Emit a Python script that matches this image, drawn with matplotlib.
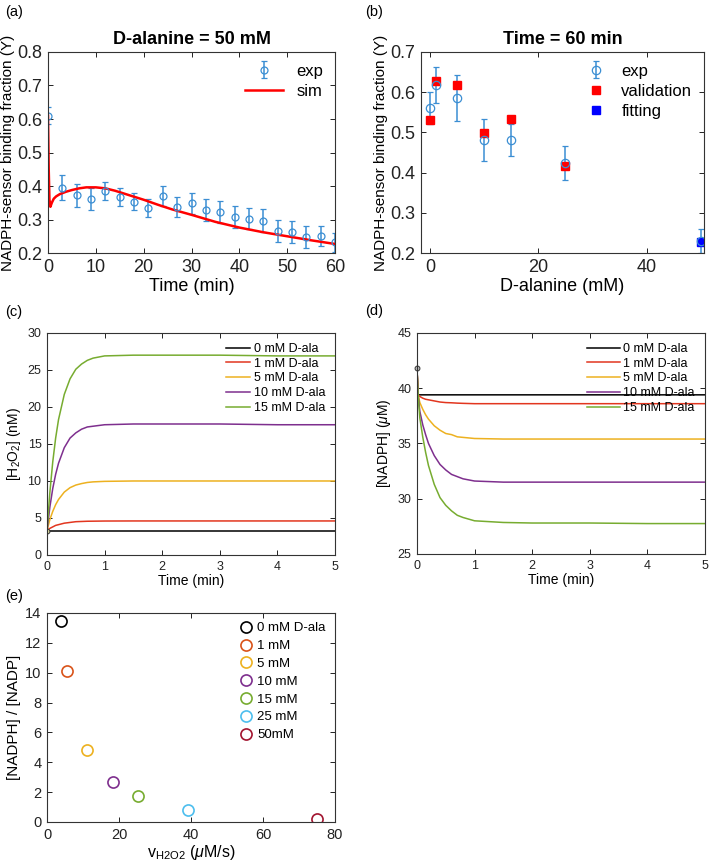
import matplotlib
matplotlib.use("Agg")
import matplotlib.pyplot as plt

plt.rcParams['font.family'] = ['Liberation Sans', 'DejaVu Sans']
plt.rcParams['mathtext.fontset'] = 'custom'
plt.rcParams['mathtext.rm'] = 'Liberation Sans'
plt.rcParams['mathtext.it'] = 'Liberation Sans:italic'
plt.rcParams['axes.edgecolor'] = '#333333'
plt.rcParams['axes.linewidth'] = 0.8

# Panel (a): D-alanine = 50 mM, time course
a_t = [0, 3, 6, 9, 12, 15, 18, 21, 24, 27, 30, 33, 36, 39, 42, 45, 48, 51, 54, 57, 60]
a_y = [0.61, 0.395, 0.372, 0.36, 0.385, 0.368, 0.353, 0.335, 0.37, 0.338, 0.348,
       0.328, 0.323, 0.307, 0.303, 0.297, 0.267, 0.264, 0.248, 0.25, 0.232]
a_err = [0.025, 0.037, 0.035, 0.033, 0.028, 0.027, 0.025, 0.027, 0.03, 0.03, 0.032,
         0.032, 0.033, 0.033, 0.032, 0.033, 0.033, 0.033, 0.032, 0.03, 0.028]
sim_t = [0, 0.15, 0.3, 0.5, 0.8, 1.2, 1.7, 2.5, 3.8, 5, 6.5, 8, 10, 12, 14, 16, 18,
         20, 23, 26, 30, 35, 40, 45, 50, 55, 60]
sim_y = [0.61, 0.45, 0.36, 0.338, 0.35, 0.362, 0.369, 0.376, 0.383, 0.388, 0.393,
         0.396, 0.396, 0.393, 0.386, 0.377, 0.368, 0.359, 0.344, 0.330, 0.314,
         0.293, 0.276, 0.262, 0.250, 0.238, 0.227]

# Panel (b): time = 60 min
b_x = [0, 1, 5, 10, 15, 25, 50]
b_y = [0.56, 0.617, 0.585, 0.481, 0.481, 0.423, 0.23]
b_err = [0.04, 0.045, 0.057, 0.053, 0.04, 0.042, 0.03]
val_x = [0, 1, 5, 10, 15, 25]
val_y = [0.531, 0.629, 0.619, 0.499, 0.533, 0.416]
fit_x = [50]
fit_y = [0.227]

# Panels (c), (d): simulated time courses
labels_cd = ['0 mM D-ala', '1 mM D-ala', '5 mM D-ala', '10 mM D-ala', '15 mM D-ala']
colors_cd = ['black', '#E2361F', '#EDB120', '#7E2F8E', '#77AC30']
t_sim = [0, 0.05, 0.1, 0.15, 0.2, 0.3, 0.4, 0.5, 0.6, 0.7, 0.8, 1.0, 1.5, 2, 3, 4, 5]
h2o2 = [
    [3.3] * 17,
    [3.3, 3.6, 3.8, 4.0, 4.1, 4.3, 4.4, 4.5, 4.53, 4.56, 4.57, 4.59, 4.6, 4.6, 4.6, 4.6, 4.6],
    [3.3, 4.8, 5.9, 6.8, 7.5, 8.5, 9.1, 9.45, 9.65, 9.8, 9.88, 9.95, 10.0, 10.0, 10.0, 10.0, 10.0],
    [3.3, 6.5, 9.0, 10.9, 12.4, 14.5, 15.8, 16.5, 17.0, 17.3, 17.4, 17.6, 17.7, 17.7, 17.7, 17.6, 17.6],
    [3.3, 8.5, 12.6, 15.8, 18.3, 21.7, 23.8, 25.1, 25.8, 26.3, 26.6, 26.9, 27.0, 27.0, 27.0, 26.9, 26.9],
]
h2o2_init = 3.3
t_nadph = [0, 0.02, 0.05, 0.1, 0.15, 0.2, 0.3, 0.4, 0.5, 0.6, 0.7, 0.8, 1.0, 1.5, 2, 3, 4, 5]
nadph = [
    [41.8, 39.4, 39.4, 39.4, 39.4, 39.4, 39.4, 39.4, 39.4, 39.4, 39.4, 39.4, 39.4, 39.4, 39.4, 39.4, 39.4, 39.4],
    [41.8, 39.4, 39.25, 39.1, 39.0, 38.95, 38.85, 38.75, 38.7, 38.68, 38.65, 38.63, 38.6, 38.6, 38.6, 38.6, 38.6, 38.6],
    [41.8, 39.4, 38.7, 38.1, 37.6, 37.2, 36.6, 36.2, 35.9, 35.8, 35.6, 35.55, 35.45, 35.4, 35.4, 35.4, 35.4, 35.4],
    [41.8, 39.4, 37.9, 36.7, 35.8, 35.0, 33.9, 33.1, 32.6, 32.2, 32.0, 31.8, 31.6, 31.5, 31.5, 31.5, 31.5, 31.5],
    [41.8, 39.4, 37.3, 35.6, 34.2, 33.0, 31.3, 30.1, 29.4, 28.9, 28.5, 28.3, 28.0, 27.85, 27.8, 27.8, 27.75, 27.75],
]
nadph_init = 41.8

# Panel (e): ratio vs H2O2 flux
e_labels = ['0 mM D-ala', '1 mM', '5 mM', '10 mM', '15 mM', '25 mM', '50mM']
e_colors = ['black', '#D95319', '#EDB120', '#7E2F8E', '#77AC30', '#4DBEEE', '#A2142F']
e_x = [4.0, 5.6, 11.0, 18.2, 25.3, 39.3, 74.9]
e_y = [13.45, 10.1, 4.8, 2.67, 1.71, 0.82, 0.2]

exp_col = '#3B8ED3'

fig = plt.figure(figsize=(7.09, 8.68), dpi=100)
ax_a = fig.add_axes([0.0677, 0.7085, 0.4048, 0.2316])
ax_b = fig.add_axes([0.5938, 0.7085, 0.3992, 0.2316])
ax_c = fig.add_axes([0.0663, 0.3606, 0.4062, 0.2558])
ax_d = fig.add_axes([0.5881, 0.3618, 0.4062, 0.2546])
ax_e = fig.add_axes([0.0663, 0.0530, 0.4062, 0.2408])


def style(ax, size):
    ax.tick_params(direction='in', top=True, right=True, length=3.5, width=0.7,
                   labelsize=size, colors='#222222', pad=4)


# (a)
h_exp = ax_a.errorbar(a_t, a_y, yerr=a_err, fmt='o', color=exp_col, mfc='none', ms=5,
                      capsize=2.5, elinewidth=1.1, mew=0.9, label='exp')
h_sim, = ax_a.plot(sim_t, sim_y, color='red', lw=1.8, label='sim')
ax_a.set_xlim(0, 60)
ax_a.set_ylim(0.2, 0.8)
ax_a.set_xticks(range(0, 61, 10))
ax_a.set_yticks([0.2, 0.3, 0.4, 0.5, 0.6, 0.7, 0.8])
style(ax_a, 13)
ax_a.set_title('D-alanine = 50 mM', fontsize=13, fontweight='bold', pad=6)
ax_a.set_xlabel('Time (min)', fontsize=13, labelpad=2)
ax_a.set_ylabel('NADPH-sensor binding fraction (Y)', fontsize=11, labelpad=2)
ax_a.legend([h_exp, h_sim], ['exp', 'sim'], loc='upper right', frameon=False,
            fontsize=12, handlelength=2.3, borderaxespad=0.3, labelspacing=0.3)

# (b)
h_bexp = ax_b.errorbar(b_x, b_y, yerr=b_err, fmt='o', color=exp_col, mfc='none', ms=6,
                       capsize=2.5, elinewidth=1.1, mew=0.9, label='exp')
h_val, = ax_b.plot(val_x, val_y, 's', color='red', ms=5.5, label='validation')
h_fit, = ax_b.plot(fit_x, fit_y, 's', color='blue', ms=5.5, label='fitting')
ax_b.set_xlim(-1.7, 50.6)
ax_b.set_ylim(0.2, 0.7)
ax_b.set_xticks([0, 20, 40])
ax_b.set_yticks([0.2, 0.3, 0.4, 0.5, 0.6, 0.7])
style(ax_b, 13)
ax_b.set_title('Time = 60 min', fontsize=13, fontweight='bold', pad=6)
ax_b.set_xlabel('D-alanine (mM)', fontsize=13, labelpad=2)
ax_b.set_ylabel('NADPH-sensor binding fraction (Y)', fontsize=11, labelpad=2)
ax_b.legend([h_bexp, h_val, h_fit], ['exp', 'validation', 'fitting'],
            loc='upper right', frameon=False, fontsize=12, handlelength=1.5,
            borderaxespad=0.3, labelspacing=0.3)

# (c)
for ys, lab, col in zip(h2o2, labels_cd, colors_cd):
    ax_c.plot(t_sim, ys, color=col, lw=1.1, label=lab)
ax_c.plot([0], [h2o2_init], 'o', ms=3.5, mfc='#d8d8a0', mec='#333333', mew=0.7)
ax_c.set_xlim(0, 5)
ax_c.set_ylim(0, 30)
ax_c.set_yticks(range(0, 31, 5))
style(ax_c, 9)
ax_c.set_xlabel('Time (min)', fontsize=10, labelpad=1)
ax_c.set_ylabel('[H$_2$O$_2$] (nM)', fontsize=10, labelpad=3)
ax_c.legend(loc='upper right', frameon=False, fontsize=9, handlelength=1.9,
            borderaxespad=0.4, labelspacing=0.22, handletextpad=0.3)

# (d)
for ys, lab, col in zip(nadph, labels_cd, colors_cd):
    ax_d.plot(t_nadph, ys, color=col, lw=1.1, label=lab)
ax_d.plot([0], [nadph_init], 'o', ms=3.5, mfc='#bbbbbb', mec='#333333', mew=0.7,
          clip_on=False)
ax_d.set_xlim(0, 5)
ax_d.set_ylim(25, 45)
ax_d.set_yticks(range(25, 46, 5))
style(ax_d, 9)
ax_d.set_xlabel('Time (min)', fontsize=10, labelpad=1)
ax_d.set_ylabel(r'[NADPH] ($\mu$M)', fontsize=10, labelpad=3)
ax_d.legend(loc='upper right', frameon=False, fontsize=9, handlelength=2.6,
            borderaxespad=0.4, labelspacing=0.22, handletextpad=0.3)

# (e)
for x, y, lab, col in zip(e_x, e_y, e_labels, e_colors):
    ax_e.plot([x], [y], 'o', ms=8, mfc='none', mec=col, mew=1.2, label=lab)
ax_e.set_xlim(0, 80)
ax_e.set_ylim(0, 14)
ax_e.set_yticks(range(0, 15, 2))
style(ax_e, 10.5)
ax_e.set_xlabel(r'v$_{\mathrm{H2O2}}$ ($\mu$M/s)', fontsize=11.5, labelpad=1)
ax_e.set_ylabel('[NADPH] / [NADP]', fontsize=11, labelpad=3)
ax_e.legend(loc='upper right', frameon=False, fontsize=9.5, handlelength=1.0,
            borderaxespad=0.3, labelspacing=0.42, handletextpad=0.4)

# panel letters
for lx, ly, lt in [(5, 12, '(a)'), (365, 12, '(b)'), (5, 312, '(c)'),
                   (365, 311, '(d)'), (5, 596, '(e)')]:
    fig.text(lx / 709, 1 - ly / 868, lt, fontsize=10.5, ha='left', va='center')

fig.savefig('out.png', dpi=100)
